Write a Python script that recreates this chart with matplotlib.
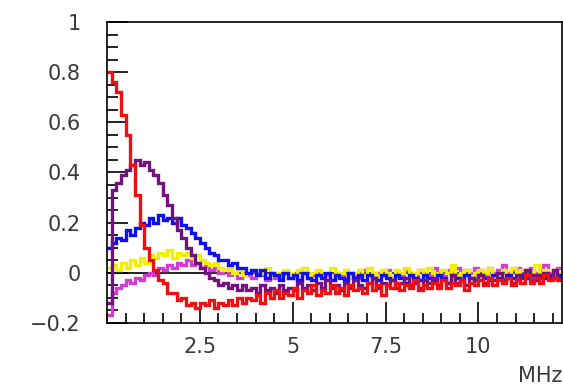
import numpy as np
import matplotlib
matplotlib.use("Agg")
import matplotlib.pyplot as plt
from matplotlib.ticker import MultipleLocator, FixedLocator

# ---- data (bin width 0.125 MHz, 0 .. 12.25 MHz) ----
x_min, x_max = 0.0, 12.25

red = [0.80, 0.76, 0.72, 0.63, 0.55, 0.43, 0.31, 0.19, 0.10, 0.05,
       0.01, -0.03, -0.04, -0.08, -0.08, -0.11, -0.10, -0.13, -0.12, -0.14,
       -0.12, -0.13, -0.11, -0.14, -0.12, -0.13, -0.11, -0.13, -0.10, -0.12,
       -0.10, -0.11, -0.09, -0.12, -0.08, -0.10, -0.07, -0.10, -0.08, -0.09,
       -0.06, -0.10, -0.07, -0.08, -0.05, -0.09, -0.07, -0.08, -0.05, -0.08,
       -0.06, -0.09, -0.05, -0.07, -0.06, -0.08, -0.04, -0.07, -0.05, -0.09,
       -0.05, -0.06, -0.04, -0.07, -0.05, -0.06, -0.03, -0.07, -0.05, -0.06,
       -0.04, -0.06, -0.03, -0.06, -0.04, -0.05, -0.03, -0.07, -0.04, -0.05,
       -0.03, -0.05, -0.02, -0.05, -0.03, -0.04, -0.02, -0.05, -0.03, -0.04,
       -0.01, -0.04, -0.02, -0.04, -0.01, -0.03, -0.02, -0.03]

purple = [-0.12, 0.33, 0.36, 0.39, 0.41, 0.43, 0.45, 0.43, 0.44, 0.41,
          0.39, 0.36, 0.31, 0.27, 0.22, 0.17, 0.14, 0.10, 0.07, 0.04,
          0.02, 0.00, -0.02, -0.03, -0.05, -0.04, -0.06, -0.05, -0.07, -0.05,
          -0.07, -0.06, -0.08, -0.05, -0.07, -0.06, -0.08, -0.05, -0.07, -0.06,
          -0.07, -0.04, -0.06, -0.05, -0.07, -0.04, -0.06, -0.03, -0.06, -0.05,
          -0.07, -0.04, -0.06, -0.03, -0.05, -0.06, -0.04, -0.02, -0.06, -0.04,
          -0.05, -0.03, -0.06, -0.04, -0.02, -0.05, -0.04, -0.06, -0.03, -0.04,
          -0.02, -0.05, -0.03, -0.04, -0.01, -0.04, -0.03, -0.05, -0.02, -0.03,
          -0.01, -0.04, -0.02, -0.03, 0.00, -0.03, -0.02, -0.04, -0.01, -0.02,
          0.01, -0.03, -0.01, -0.02, 0.00, -0.02, 0.01, -0.02]

blue = [0.10, 0.12, 0.14, 0.13, 0.17, 0.15, 0.18, 0.20, 0.19, 0.22,
        0.20, 0.23, 0.21, 0.22, 0.20, 0.22, 0.19, 0.18, 0.16, 0.14,
        0.12, 0.10, 0.08, 0.07, 0.05, 0.05, 0.03, 0.04, 0.02, 0.02,
        0.00, 0.01, -0.01, 0.01, -0.02, 0.00, -0.01, -0.03, 0.00, -0.02,
        -0.01, -0.03, 0.00, -0.02, -0.03, -0.01, -0.02, 0.00, -0.03, -0.01,
        -0.02, -0.03, 0.00, -0.02, -0.01, -0.03, -0.01, -0.02, -0.03, -0.01,
        -0.02, -0.03, -0.01, -0.02, -0.04, -0.01, -0.02, -0.03, -0.01, -0.02,
        -0.03, -0.01, -0.02, -0.04, -0.01, -0.02, -0.03, -0.01, -0.02, -0.03,
        -0.01, -0.02, -0.03, -0.01, -0.02, -0.03, -0.01, -0.02, -0.03, -0.01,
        -0.02, -0.01, -0.03, -0.01, -0.02, -0.01, -0.02, -0.01]

yellow = [0.02, 0.03, 0.01, 0.04, 0.02, 0.05, 0.03, 0.06, 0.04, 0.07,
          0.06, 0.08, 0.07, 0.09, 0.06, 0.08, 0.07, 0.08, 0.06, 0.07,
          0.05, 0.04, 0.03, 0.04, 0.02, 0.01, 0.02, 0.00, 0.01, -0.01,
          0.00, 0.01, -0.01, 0.00, 0.02, -0.01, 0.00, -0.02, 0.01, 0.00,
          -0.01, 0.01, 0.02, -0.01, 0.00, 0.01, -0.01, 0.00, 0.02, -0.01,
          0.00, 0.01, -0.02, 0.00, 0.01, -0.01, 0.02, 0.00, -0.01, 0.01,
          0.00, -0.02, 0.01, 0.00, 0.02, -0.01, 0.00, 0.01, -0.01, 0.02,
          0.00, -0.01, 0.01, 0.00, 0.03, -0.01, 0.00, 0.01, -0.02, 0.00,
          0.01, 0.00, 0.02, -0.01, 0.00, 0.01, -0.01, 0.02, 0.00, 0.01,
          -0.01, 0.00, 0.03, 0.00, 0.01, -0.01, 0.01, 0.00]

magenta = [-0.17, -0.08, -0.06, -0.05, -0.03, -0.04, -0.02, -0.03, -0.01, 0.00,
           -0.01, 0.02, 0.01, 0.03, 0.02, 0.04, 0.03, 0.05, 0.03, 0.04,
           0.02, 0.03, 0.01, 0.02, 0.00, 0.01, -0.01, 0.00, -0.02, 0.00,
           -0.01, -0.02, 0.00, -0.01, -0.03, 0.00, -0.02, -0.01, 0.00, -0.02,
           -0.01, -0.03, 0.00, -0.02, -0.01, 0.00, -0.02, -0.01, -0.03, 0.00,
           -0.01, -0.02, 0.00, -0.01, -0.02, 0.01, -0.01, -0.02, 0.00, -0.01,
           0.01, -0.02, 0.00, -0.01, 0.01, 0.00, -0.02, 0.01, 0.00, -0.01,
           0.02, 0.00, -0.01, 0.01, 0.00, 0.02, -0.01, 0.01, 0.00, 0.02,
           0.01, -0.01, 0.02, 0.00, 0.01, 0.03, 0.00, 0.01, 0.02, -0.01,
           0.01, 0.02, 0.00, 0.01, 0.03, 0.00, 0.01, 0.02]

series = [(magenta, "#d23cd2"), (yellow, "#f2ee00"), (blue, "#1010ee"),
          (purple, "#72127e"), (red, "#ee1010")]

x_major = [2.5, 5, 7.5, 10]
x_major_labels = ["2.5", "5", "7.5", "10"]
y_major = [-0.2, 0, 0.2, 0.4, 0.6, 0.8, 1.0]
y_major_labels = ["\u22120.2", "0", "0.2", "0.4", "0.6", "0.8", "1"]
x_unit = "MHz"

# ---- figure ----
W, H = 563, 389
fig = plt.figure(figsize=(W / 100, H / 100), dpi=100)
ax = fig.add_axes([107 / W, 1 - 323 / H, (562 - 107) / W, (323 - 22) / H])

n = len(red)
edges = np.linspace(x_min, x_max, n + 1)
ax.axhline(0, color="black", lw=1.2, zorder=1)
for vals, col in series:
    ax.stairs(vals, edges, baseline=None, color=col, lw=2.4, zorder=2)

ax.set_xlim(x_min, x_max)
ax.set_ylim(-0.2, 1.0)

txt_color = "#3a3a3a"
fs = 15
ax.xaxis.set_major_locator(FixedLocator(x_major))
ax.set_xticklabels(x_major_labels)
ax.xaxis.set_minor_locator(MultipleLocator(0.5))
ax.yaxis.set_major_locator(FixedLocator(y_major))
ax.set_yticklabels(y_major_labels)
ax.yaxis.set_minor_locator(MultipleLocator(0.05))

ax.tick_params(axis="both", which="both", direction="in", top=False, right=False,
               color="black", width=1.2, labelcolor=txt_color, labelsize=fs)
ax.tick_params(axis="y", which="major", length=15, pad=19)
ax.tick_params(axis="y", which="minor", length=8)
ax.tick_params(axis="x", which="major", length=15, pad=10)
ax.tick_params(axis="x", which="minor", length=7.5)
for s in ax.spines.values():
    s.set_linewidth(1.2)
    s.set_color("black")

fig.text(562 / W, 1 - 386 / H, x_unit, ha="right", va="bottom",
         fontsize=fs, color=txt_color)

fig.savefig("out.png", dpi=100)
